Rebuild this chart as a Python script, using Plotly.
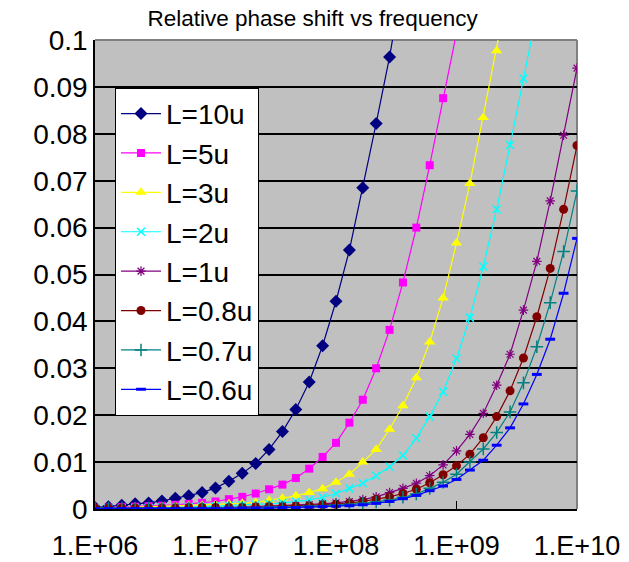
import plotly.graph_objects as go

# Frequencies (Hz), 9 log-spaced points per decade from 1e6 to 1e10
freq = [
    1.0000e6, 1.2915e6, 1.6681e6, 2.1544e6, 2.7826e6, 3.5938e6, 4.6416e6, 5.9948e6, 7.7426e6,
    1.0000e7, 1.2915e7, 1.6681e7, 2.1544e7, 2.7826e7, 3.5938e7, 4.6416e7, 5.9948e7, 7.7426e7,
    1.0000e8, 1.2915e8, 1.6681e8, 2.1544e8, 2.7826e8, 3.5938e8, 4.6416e8, 5.9948e8, 7.7426e8,
    1.0000e9, 1.2915e9, 1.6681e9, 2.1544e9, 2.7826e9, 3.5938e9, 4.6416e9, 5.9948e9, 7.7426e9,
    1.0000e10,
]

L10u = [0.0003, 0.0005, 0.0008, 0.0011, 0.0013, 0.0017, 0.0023, 0.0028, 0.0035, 0.0045,
        0.0059, 0.0076, 0.0097, 0.0127, 0.0165, 0.0212, 0.0271, 0.0348, 0.0443, 0.0552,
        0.0685, 0.0822, 0.0964, 0.1130]
L5u = [0.0002, 0.0003, 0.0004, 0.0005, 0.0006, 0.0007, 0.0009, 0.0011, 0.0013, 0.0016,
       0.0021, 0.0026, 0.0033, 0.0042, 0.0052, 0.0066, 0.0086, 0.0111, 0.0141, 0.0184,
       0.0233, 0.0300, 0.0382, 0.0483, 0.0600, 0.0733, 0.0876, 0.1015]
L3u = [0.0001, 0.0002, 0.0002, 0.0003, 0.0004, 0.0005, 0.0006, 0.0007, 0.0008, 0.0009,
       0.0011, 0.0012, 0.0014, 0.0018, 0.0023, 0.0028, 0.0035, 0.0043, 0.0057, 0.0074,
       0.0100, 0.0127, 0.0170, 0.0220, 0.0280, 0.0356, 0.0450, 0.0567, 0.0694, 0.0835,
       0.0977, 0.1130]
L2u = [0.0001, 0.0001, 0.0001, 0.0002, 0.0002, 0.0003, 0.0003, 0.0004, 0.0005, 0.0006,
       0.0007, 0.0008, 0.0009, 0.0011, 0.0013, 0.0016, 0.0019, 0.0025, 0.0033, 0.0044,
       0.0055, 0.0071, 0.0090, 0.0114, 0.0151, 0.0197, 0.0250, 0.0321, 0.0408, 0.0517,
       0.0639, 0.0776, 0.0918, 0.1058]
L1u = [0.0002, 0.0002, 0.0002, 0.0002, 0.0002, 0.0002, 0.0002, 0.0003, 0.0003, 0.0003,
       0.0003, 0.0004, 0.0005, 0.0006, 0.0007, 0.0008, 0.0009, 0.0011, 0.0013, 0.0016,
       0.0020, 0.0026, 0.0035, 0.0044, 0.0055, 0.0071, 0.0094, 0.0124, 0.0159, 0.0204,
       0.0264, 0.0330, 0.0424, 0.0528, 0.0657, 0.0797, 0.0940]
L08u = [0.0002, 0.0002, 0.0002, 0.0002, 0.0002, 0.0002, 0.0002, 0.0003, 0.0003, 0.0003,
        0.0003, 0.0003, 0.0004, 0.0005, 0.0005, 0.0006, 0.0007, 0.0009, 0.0010, 0.0013,
        0.0016, 0.0021, 0.0026, 0.0033, 0.0042, 0.0056, 0.0073, 0.0092, 0.0117, 0.0152,
        0.0197, 0.0252, 0.0322, 0.0410, 0.0513, 0.0639, 0.0775]
L07u = [0.0002, 0.0002, 0.0002, 0.0002, 0.0002, 0.0002, 0.0002, 0.0002, 0.0002, 0.0003,
        0.0003, 0.0003, 0.0003, 0.0004, 0.0004, 0.0005, 0.0006, 0.0007, 0.0008, 0.0010,
        0.0012, 0.0015, 0.0019, 0.0025, 0.0032, 0.0044, 0.0057, 0.0074, 0.0100, 0.0128,
        0.0163, 0.0207, 0.0269, 0.0346, 0.0440, 0.0549, 0.0678]
L06u = [0.0001, 0.0001, 0.0001, 0.0001, 0.0001, 0.0001, 0.0001, 0.0001, 0.0001, 0.0001,
        0.0002, 0.0002, 0.0002, 0.0002, 0.0003, 0.0003, 0.0004, 0.0005, 0.0006, 0.0007,
        0.0009, 0.0012, 0.0016, 0.0022, 0.0029, 0.0039, 0.0049, 0.0063, 0.0083, 0.0104,
        0.0136, 0.0173, 0.0224, 0.0287, 0.0362, 0.0460, 0.0577]

names = ["L=10u", "L=5u", "L=3u", "L=2u", "L=1u", "L=0.8u", "L=0.7u", "L=0.6u"]
series = [L10u, L5u, L3u, L2u, L1u, L08u, L07u, L06u]
colors = ["#000080", "#FF00FF", "#FFFF00", "#00FFFF", "#800080", "#800000", "#008080", "#0000FF"]
symbols = ["diamond", "square", "triangle-up", "x-thin", "asterisk", "circle", "cross-thin", "line-ew"]
sizes = [10, 8, 10, 8, 8, 9, 9, 7]
mline = [0, 0, 0, 1.5, 1.2, 0, 1.5, 3]

xticks = [1e6, 1e7, 1e8, 1e9, 1e10]
xticktext = ["1.E+06", "1.E+07", "1.E+08", "1.E+09", "1.E+10"]
yticks = [0, 0.01, 0.02, 0.03, 0.04, 0.05, 0.06, 0.07, 0.08, 0.09, 0.1]
yticktext = ["0", "0.01", "0.02", "0.03", "0.04", "0.05", "0.06", "0.07", "0.08", "0.09", "0.1"]

FONT = "Liberation Sans, Arial, sans-serif"

fig = go.Figure()
for i, (nm, ys) in enumerate(zip(names, series)):
    fig.add_trace(go.Scatter(
        x=freq[:len(ys)], y=ys, name=nm, mode="lines+markers",
        legendgroup=nm,
        line=dict(color=colors[i], width=1.2),
        marker=dict(symbol=symbols[i], size=sizes[i], color=colors[i],
                    line=dict(color=colors[i], width=mline[i])),
    ))

fig.update_layout(
    width=629, height=562,
    margin=dict(l=95, r=52, t=40, b=53, autoexpand=False),
    paper_bgcolor="white",
    plot_bgcolor="#C0C0C0",
    font=dict(family=FONT, color="black"),
    title=dict(text="Relative phase shift vs frequency", x=0.497, xref="container",
               xanchor="center", y=0.968, yref="container", yanchor="middle",
               font=dict(size=22.5, family=FONT, color="black")),
    legend=dict(x=0.0415, y=0.898, xanchor="left", yanchor="top",
                bgcolor="white", bordercolor="black", borderwidth=1,
                font=dict(size=28, family=FONT, color="black"),
                itemwidth=40, tracegroupgap=2, traceorder="normal"),
    showlegend=True,
)
fig.update_xaxes(type="log", range=[6, 10], tickvals=xticks, ticktext=xticktext,
                 ticks="inside", ticklen=8, tickcolor="black", tickwidth=1,
                 showline=True, linecolor="black", linewidth=1.5,
                 showgrid=False, zeroline=False, ticklabelstandoff=12,
                 automargin=False,
                 tickfont=dict(size=27, family=FONT, color="black"))
fig.update_yaxes(range=[0, 0.1], tickvals=yticks, ticktext=yticktext,
                 ticks="", showline=True, linecolor="black", linewidth=1.5,
                 showgrid=True, gridcolor="black", gridwidth=2, zeroline=False,
                 ticklabelstandoff=0, automargin=False,
                 tickfont=dict(size=28, family=FONT, color="black"))
# gray plot-area border on top and right
fig.add_shape(type="line", xref="paper", yref="paper", x0=0, x1=1, y0=1, y1=1,
              line=dict(color="#808080", width=2), layer="between")
fig.add_shape(type="line", xref="paper", yref="paper", x0=1, x1=1, y0=0, y1=1,
              line=dict(color="#808080", width=2), layer="between")

fig.write_html("out.html")
